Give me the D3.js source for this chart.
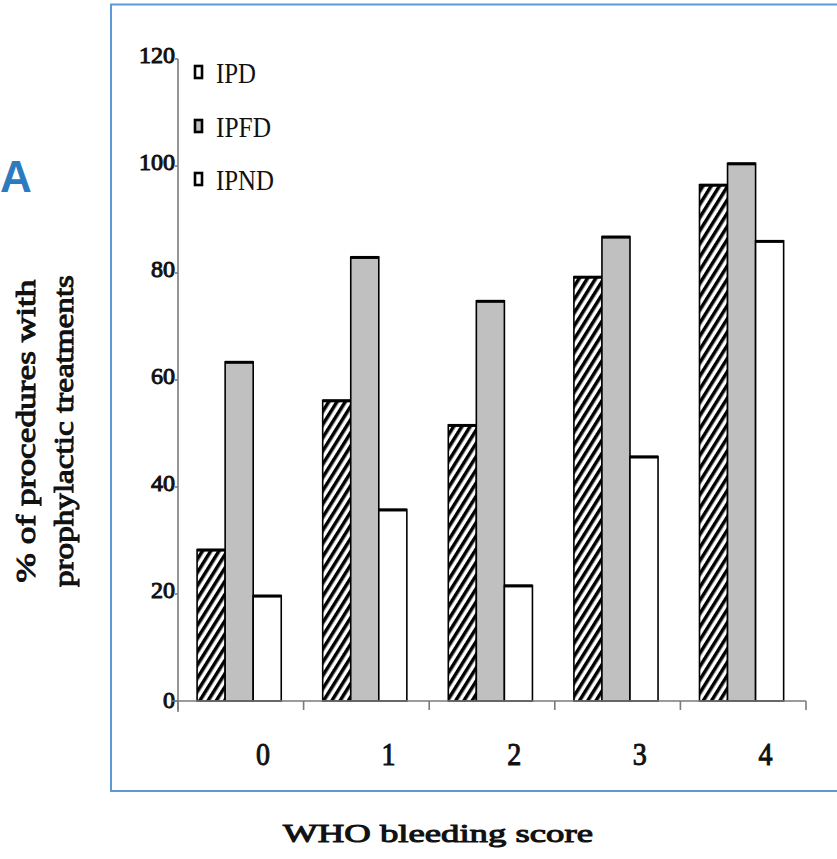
<!DOCTYPE html>
<html><head><meta charset="utf-8">
<script src="https://cdn.jsdelivr.net/npm/d3@7/dist/d3.min.js"></script>
<style>body{margin:0;background:#fff}svg{display:block}
.serif{font-family:"Liberation Serif","Times New Roman",serif}
.bold{font-weight:normal;stroke:#111;stroke-width:1px;paint-order:stroke}
</style>
</head><body>
<script>
const categories = ["0","1","2","3","4"];
const seriesNames = ["IPD","IPFD","IPND"];
const IPD  = [28.3, 56.2, 51.6, 79.3, 96.5];
const IPFD = [63.4, 83.0, 74.8, 86.8, 100.5];
const IPND = [19.7, 35.8, 21.6, 45.7, 86.0];
const yTicks = [0,20,40,60,80,100,120];
const seriesValues = [IPD, IPFD, IPND];

const W = 837, H = 859;
const svg = d3.select("body").append("svg").attr("width", W).attr("height", H);
const defs = svg.append("defs");
const pat = defs.append("pattern").attr("id","hatch").attr("patternUnits","userSpaceOnUse")
  .attr("width",7).attr("height",7).attr("patternTransform","rotate(32)");
pat.append("rect").attr("width",7).attr("height",7).attr("fill","#fff");
pat.append("rect").attr("width",3.5).attr("height",7).attr("fill","#000");

const fills = ["url(#hatch)", "#c0c0c0", "#ffffff"];

// frame
svg.append("rect").attr("x",111).attr("y",4.5).attr("width",740).attr("height",786.5)
  .attr("fill","none").attr("stroke","#5b9bd5").attr("stroke-width",2);

// panel letter
svg.append("text").attr("x",0).attr("y",192).attr("text-anchor","start")
  .attr("font-family","Liberation Sans, Arial, sans-serif").attr("font-weight","bold")
  .attr("font-size",44).attr("fill","#2b7bbf").text("A");

const x0 = 178, x1 = 806, yBase = 701, yTop = 59;
const x = d3.scaleBand().domain(categories).range([x0, x1]).padding(0);
const y = d3.scaleLinear().domain([0,120]).range([yBase, yTop]);
const bw = x.bandwidth();
const xs = d3.scaleBand().domain(seriesNames).range([bw*0.152, bw*0.822]).padding(0);

// bars
seriesNames.forEach((s, si) => {
  const g = svg.append("g");
  categories.forEach((c, ci) => {
    const v = seriesValues[si][ci];
    const bx = x(c) + xs(s);
    g.append("rect").attr("x", bx).attr("y", y(v)).attr("width", xs.bandwidth())
      .attr("height", yBase - y(v)).attr("fill", fills[si])
      .attr("stroke","#000").attr("stroke-width",1.6);
    g.append("line").attr("x1", bx).attr("x2", bx + xs.bandwidth())
      .attr("y1", y(v)+0.5).attr("y2", y(v)+0.5).attr("stroke","#000").attr("stroke-width",3);
  });
});

// y axis
const axisColor = "#7a7a7a";
svg.append("line").attr("x1",x0).attr("x2",x0).attr("y1",yTop).attr("y2",712)
  .attr("stroke",axisColor).attr("stroke-width",1.6);
const yt = svg.append("g");
yTicks.forEach(t => {
  yt.append("line").attr("x1",x0-3).attr("x2",x0).attr("y1",y(t)).attr("y2",y(t))
    .attr("stroke",axisColor).attr("stroke-width",1.6);
  yt.append("text").attr("class","serif bold").attr("x",x0-3).attr("y",y(t)+ (t===0?7:4))
    .attr("text-anchor","end").attr("font-size",24).attr("fill","#111").text(t);
});

// x axis
svg.append("line").attr("x1",x0-6).attr("x2",x1).attr("y1",yBase).attr("y2",yBase)
  .attr("stroke",axisColor).attr("stroke-width",1.6);
const xt = svg.append("g");
categories.concat(["end"]).forEach(c => {
  const px = c === "end" ? x1 : x(c);
  xt.append("line").attr("x1",px).attr("x2",px).attr("y1",yBase).attr("y2",yBase+9)
    .attr("stroke",axisColor).attr("stroke-width",1.6);
});
categories.forEach(c => {
  xt.append("text").attr("class","serif bold").attr("x", x(c) + 85).attr("y", 765)
    .attr("text-anchor","middle").attr("font-size",31).attr("fill","#111")
    .attr("textLength",14).attr("lengthAdjust","spacingAndGlyphs").text(c);
});

// legend
const legY = [83, 137, 190];
const legLen = [40, 55, 58];
seriesNames.forEach((s, i) => {
  svg.append("rect").attr("x",195).attr("y",legY[i]-17).attr("width",7).attr("height",12)
    .attr("fill", fills[i] === "url(#hatch)" ? "#fff" : fills[i]).attr("stroke","#000").attr("stroke-width",2.6);
  svg.append("text").attr("class","serif").attr("x",216).attr("y",legY[i])
    .attr("font-size",29).attr("fill","#111")
    .attr("textLength",legLen[i]).attr("lengthAdjust","spacingAndGlyphs").text(s);
});

// axis titles
svg.append("text").attr("class","serif bold").attr("transform","translate(35,431) rotate(-90)")
  .attr("text-anchor","middle").attr("font-size",27).attr("fill","#111")
  .attr("textLength",303).attr("lengthAdjust","spacingAndGlyphs").text("% of procedures with");
svg.append("text").attr("class","serif bold").attr("transform","translate(73,431) rotate(-90)")
  .attr("text-anchor","middle").attr("font-size",27).attr("fill","#111")
  .attr("textLength",312).attr("lengthAdjust","spacingAndGlyphs").text("prophylactic treatments");
svg.append("text").attr("class","serif bold").attr("x",438).attr("y",842).attr("text-anchor","middle")
  .attr("font-size",26).attr("fill","#111")
  .attr("textLength",310).attr("lengthAdjust","spacingAndGlyphs").text("WHO bleeding score");
</script>
</body></html>
